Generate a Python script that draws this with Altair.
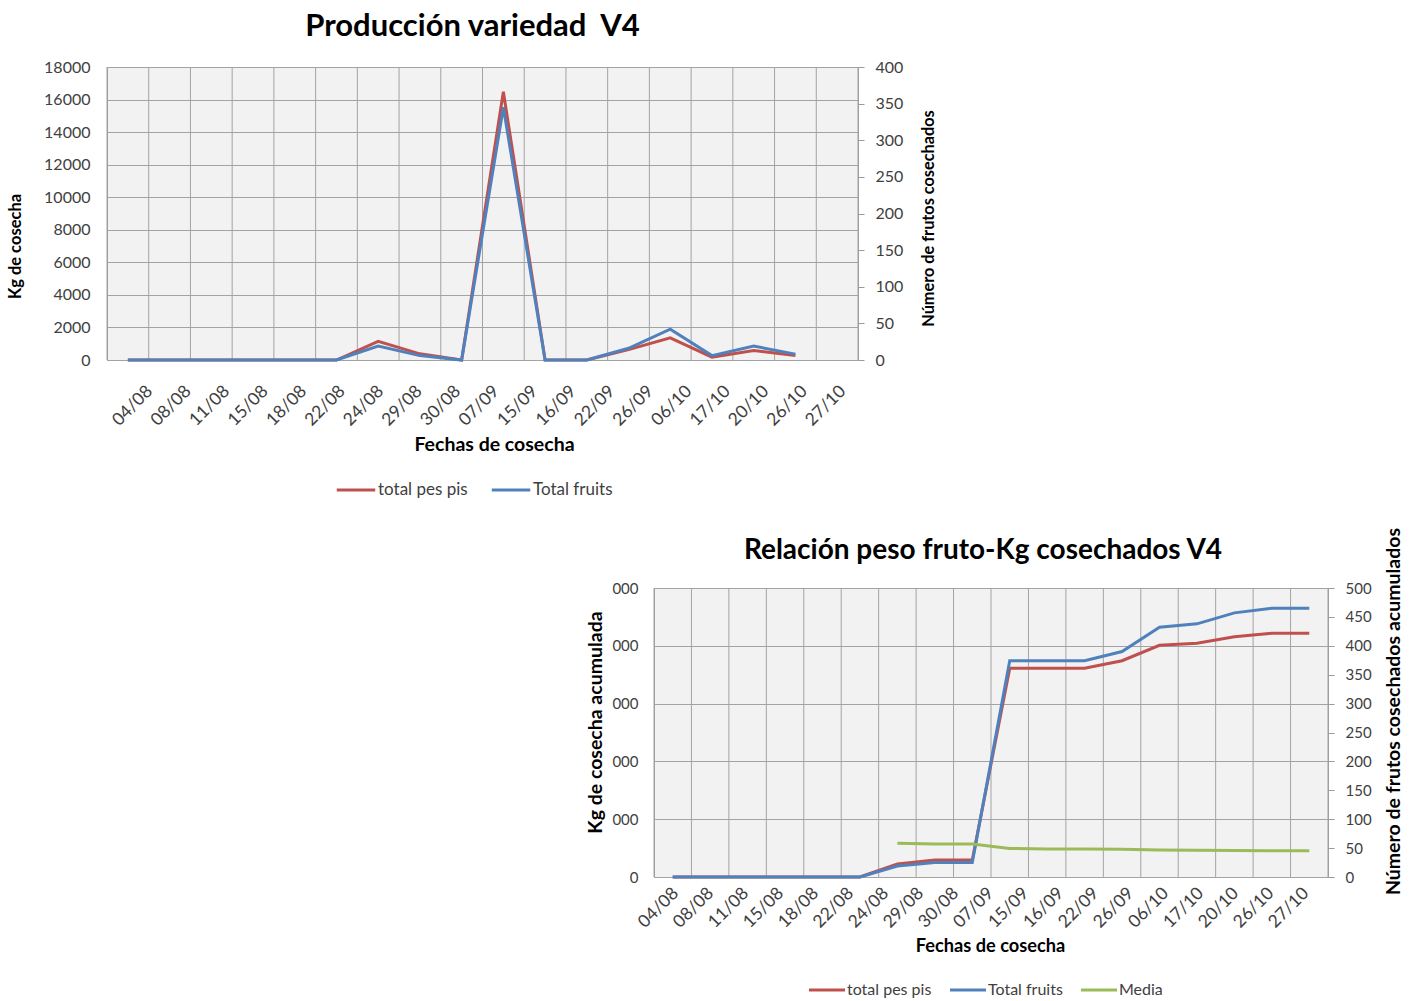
import json
import altair as alt
import pandas as pd

# Harvest dates shown on the category axis
fechas = ["04/08", "08/08", "11/08", "15/08", "18/08", "22/08", "24/08", "29/08",
          "30/08", "07/09", "15/09", "16/09", "22/09", "26/09", "06/10", "17/10",
          "20/10", "26/10", "27/10"]

# Production per harvest (top chart)
kg_cosecha = [0, 0, 0, 0, 0, 0, 1150, 380, 0, 16480, 0, 0, 640, 1360, 170, 580, 280]
frutos = [0, 0, 0, 0, 0, 0, 19, 6, 0, 345, 0, 0, 16, 42, 6, 19, 8]

# Accumulated production (bottom chart)
kg_acum = [0, 0, 0, 0, 0, 0, 1120, 1470, 1470, 18050, 18050, 18050, 18710, 20040,
           20220, 20790, 21080, 21080]
frutos_acum = [0, 0, 0, 0, 0, 0, 19, 25, 25, 374, 374, 374, 390, 432, 438, 457,
               465, 465]
media = [58.3, 57.2, 57.1, 49.5, 48.5, 48.5, 48, 46.5, 46.2, 45.8, 45.5, 45.5]
media_inicio = 6

SERIES = ["total pes pis", "Total fruits", "Media"]
RED, BLUE, GREEN = "#c0504d", "#4f81bd", "#9bbb59"
GRID = "#a3a3a3"
BORDER = "#9a9a9a"
TXT = "#404040"
FONT = "Lato"
N_SLOTS = 18


def frame(name, values, start=0):
    return pd.DataFrame({"idx": [start + i for i in range(len(values))],
                         "valor": values, "serie": name})


def x_axis(start, step, pad, size, title_x, title_y, title_size):
    vals = [round(start + i * step, 4) for i in range(len(fechas))]
    expr = "%s[round((datum.value - %r) / %r)]" % (json.dumps(fechas), start, step)
    return alt.Axis(values=vals, labelExpr=expr, labelAngle=-45, labelAlign="right",
                    labelBaseline="top", labelPadding=pad, labelOverlap=False,
                    labelFlush=False, ticks=False, tickSize=0, domain=False, grid=False,
                    labelFont=FONT, labelFontSize=size, labelColor=TXT,
                    title="Fechas de cosecha", titleFont=FONT, titleFontSize=title_size,
                    titleFontWeight="bold", titleColor="black", titleX=title_x,
                    titleY=title_y, titleAlign="center", titleBaseline="middle")


def grid_layer(x_scale, axis, height):
    g = pd.DataFrame({"g": list(range(N_SLOTS + 1))})
    return alt.Chart(g).mark_rule(color=GRID, strokeWidth=1).encode(
        x=alt.X("g:Q", scale=x_scale, axis=axis),
        y=alt.value(0), y2=alt.value(height))


def line(df, y, color, x_scale, axis):
    return alt.Chart(df).mark_line(strokeWidth=3).transform_calculate(
        pos="datum.idx + 0.5").encode(x=alt.X("pos:Q", scale=x_scale, axis=axis),
                                      y=y, color=color)


# ---------- Top chart: production per harvest ----------
W1, H1 = 751, 293
xs1 = alt.Scale(domain=[0, N_SLOTS], nice=False, zero=False)
xa1 = x_axis(0.864, 0.923, 22, 17.5, 387, 84, 19.5)
color1 = alt.Color("serie:N", scale=alt.Scale(domain=SERIES[:2], range=[RED, BLUE]),
                   legend=alt.Legend(orient="none", legendX=228, legendY=402,
                                     direction="horizontal", title=None,
                                     symbolType="stroke", symbolSize=1480,
                                     symbolStrokeWidth=3, labelFont=FONT,
                                     labelFontSize=17, labelColor=TXT, labelOffset=1,
                                     columnPadding=17))

left1 = alt.Axis(orient="left", values=list(range(0, 18001, 2000)), format="d",
                 grid=True, gridColor=GRID, ticks=False, tickSize=0, domain=False,
                 labelPadding=17, labelFont=FONT, labelFontSize=16, labelColor=TXT,
                 title="Kg de cosecha", titleFont=FONT, titleFontSize=16.5,
                 titleFontWeight="bold", titleColor="black", titleAngle=270,
                 titleBaseline="bottom", titleAlign="center", titleX=-84, titleY=179)
right1 = alt.Axis(orient="right", values=list(range(0, 401, 50)), format="d",
                  grid=False, ticks=True, tickSize=6, tickColor=BORDER, domain=False,
                  labelPadding=11, labelFont=FONT, labelFontSize=16, labelColor=TXT,
                  title="Número de frutos cosechados", titleFont=FONT,
                  titleFontSize=16.3, titleFontWeight="bold", titleColor="black",
                  titleAngle=270, titleBaseline="top", titleAlign="center",
                  titleX=62, titleY=151)

top = alt.layer(
    grid_layer(xs1, xa1, H1),
    line(frame(SERIES[0], kg_cosecha),
         alt.Y("valor:Q", scale=alt.Scale(domain=[0, 18000], nice=False), axis=left1),
         color1, xs1, xa1),
    line(frame(SERIES[1], frutos),
         alt.Y("valor:Q", scale=alt.Scale(domain=[0, 400], nice=False), axis=right1),
         color1, xs1, xa1),
).resolve_scale(y="independent").properties(
    width=W1, height=H1,
    view=alt.ViewBackground(fill="#f2f2f2", stroke=BORDER, strokeWidth=1),
    title=alt.TitleParams("Producción variedad \u00a0V4", font=FONT, fontSize=31,
                          fontWeight="bold", color="black", anchor="middle",
                          frame="group", dx=-10, offset=16))

# ---------- Bottom chart: accumulated harvest ----------
W2, H2 = 674, 289
xs2 = alt.Scale(domain=[0, N_SLOTS], nice=False, zero=False)
xa2 = x_axis(0.40, 0.935, 7, 17.5, 336, 69, 18.2)
color2 = alt.Color("serie:N", scale=alt.Scale(domain=SERIES, range=[RED, BLUE, GREEN]),
                   legend=alt.Legend(orient="none", legendX=153, legendY=382,
                                     direction="horizontal", title=None,
                                     symbolType="stroke", symbolSize=1300,
                                     symbolStrokeWidth=3, labelFont=FONT,
                                     labelFontSize=16, labelColor=TXT, labelOffset=0,
                                     columnPadding=11))

left2 = alt.Axis(orient="left", values=list(range(0, 25001, 5000)), format="d",
                 labelExpr="slice(datum.label, -3)",
                 grid=True, gridColor=GRID, ticks=False, tickSize=0, domain=False,
                 labelPadding=16, labelFont=FONT, labelFontSize=15, labelColor=TXT,
                 title="Kg de cosecha acumulada", titleFont=FONT, titleFontSize=19.5,
                 titleFontWeight="bold", titleColor="black", titleAngle=270,
                 titleBaseline="bottom", titleAlign="center", titleX=-49, titleY=134)
right2 = alt.Axis(orient="right", values=list(range(0, 501, 50)), format="d",
                  grid=False, ticks=True, tickSize=6, tickColor=BORDER, domain=False,
                  labelPadding=11, labelFont=FONT, labelFontSize=15, labelColor=TXT,
                  title="Número de frutos cosechados acumulados", titleFont=FONT,
                  titleFontSize=19.5, titleFontWeight="bold", titleColor="black",
                  titleAngle=270, titleBaseline="top", titleAlign="center",
                  titleX=56, titleY=123)

y_right2 = alt.Y("valor:Q", scale=alt.Scale(domain=[0, 500], nice=False), axis=right2)
bottom = alt.layer(
    grid_layer(xs2, xa2, H2),
    line(frame(SERIES[0], kg_acum),
         alt.Y("valor:Q", scale=alt.Scale(domain=[0, 25000], nice=False), axis=left2),
         color2, xs2, xa2),
    alt.layer(
        line(frame(SERIES[1], frutos_acum), y_right2, color2, xs2, xa2),
        line(frame(SERIES[2], media, media_inicio), y_right2, color2, xs2, xa2),
    ),
).resolve_scale(y="independent").properties(
    width=W2, height=H2,
    view=alt.ViewBackground(fill="#f2f2f2", stroke=BORDER, strokeWidth=1),
    title=alt.TitleParams("Relación peso fruto-Kg cosechados V4", font=FONT,
                          fontSize=28, fontWeight="bold", color="black",
                          anchor="middle", frame="group", dx=-8, offset=-38))

spacer = alt.Chart(pd.DataFrame({"v": [0]})).mark_point(opacity=0, size=1).encode(
    x=alt.value(0), y=alt.value(0)).properties(
    width=477, height=1, view=alt.ViewBackground(strokeWidth=0, fill="white"))

lower = alt.hconcat(spacer, bottom, spacing=0).resolve_scale(color="independent")

chart = alt.vconcat(top, lower, spacing=27).resolve_scale(
    color="independent").resolve_legend(color="independent").properties(
    padding={"left": 6, "top": 10, "right": 0, "bottom": 0},
    background="white").configure_view(strokeWidth=0)

chart.save("out.html", embed_options={"renderer": "svg", "actions": False})
